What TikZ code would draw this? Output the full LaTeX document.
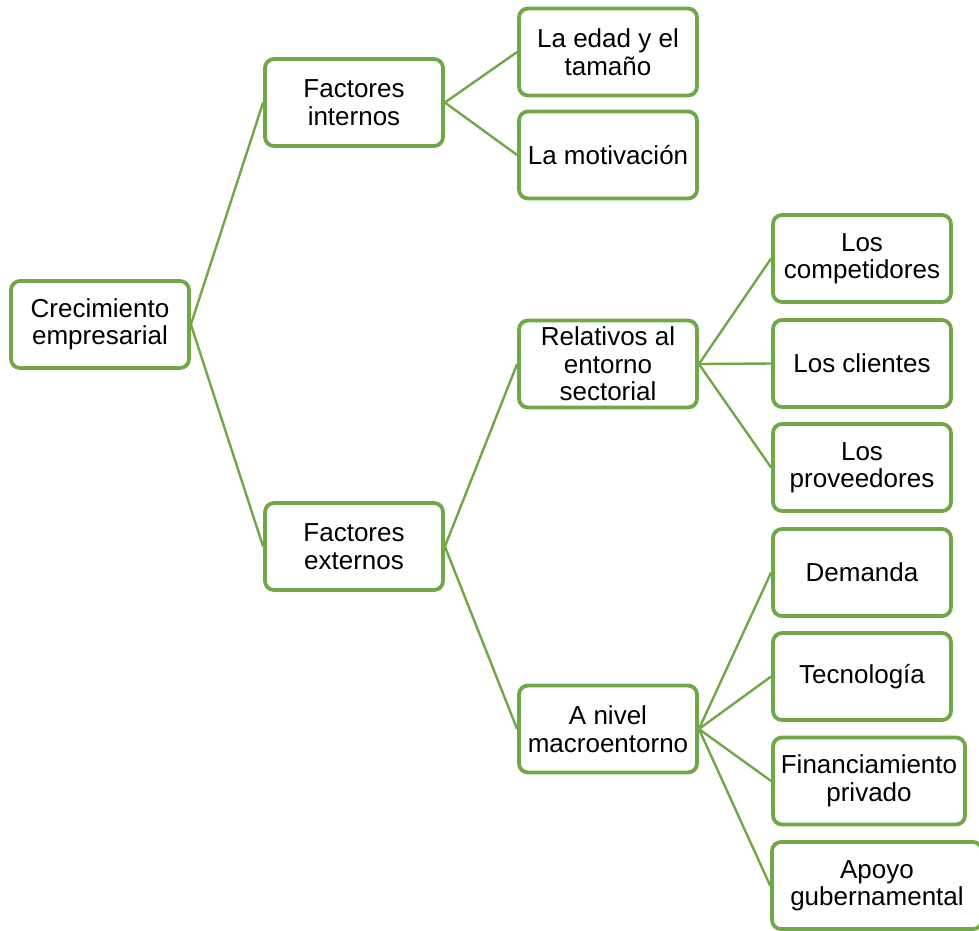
\documentclass[tikz,border=0pt]{standalone}
\usepackage{fontspec}
\setmainfont{Liberation Sans}
\definecolor{grn}{RGB}{112,168,71}
\begin{document}
\begin{tikzpicture}[x=1pt,y=-1pt,
  box/.style={draw=grn,line width=3.8pt,rounded corners=9pt,fill=white,
    minimum width=#1,minimum height=87pt,inner sep=0pt,
    align=center,font=\fontsize{26}{27.5}\selectfont},
  box/.default=178pt,
  link/.style={draw=grn,line width=2.4pt}]
\useasboundingbox (0,0) rectangle (979,930);
\node[box] (c0) at (100,324.5) {Crecimiento\\empresarial};
\node[box] (fi) at (354,102.5) {Factores\\internos};
\node[box] (fe) at (354,546.5) {Factores\\externos};
\node[box] (l1) at (608,52) {La edad y el\\tamaño};
\node[box] (l2) at (608,155) {La motivación};
\node[box] (r1) at (608,364) {Relativos al\\entorno\\sectorial};
\node[box] (r2) at (608,729) {A nivel\\macroentorno};
\node[box] (k1) at (862,258.5) {Los\\competidores};
\node[box] (k2) at (862,363.5) {Los clientes};
\node[box] (k3) at (862,467.5) {Los\\proveedores};
\node[box] (k4) at (862,572.5) {Demanda};
\node[box] (k5) at (862,676.5) {Tecnología};
\node[box=192pt] (k6) at (869,781) {Financiamiento\\privado};
\node[box=210pt] (k7) at (877,885.5) {Apoyo\\gubernamental};
\foreach \a/\b in {c0/fi,c0/fe,fi/l1,fi/l2,fe/r1,fe/r2,r1/k1,r1/k2,r1/k3,r2/k4,r2/k5,r2/k6,r2/k7}
  \draw[link] (\a.east) -- (\b.west);
\end{tikzpicture}
\end{document}
